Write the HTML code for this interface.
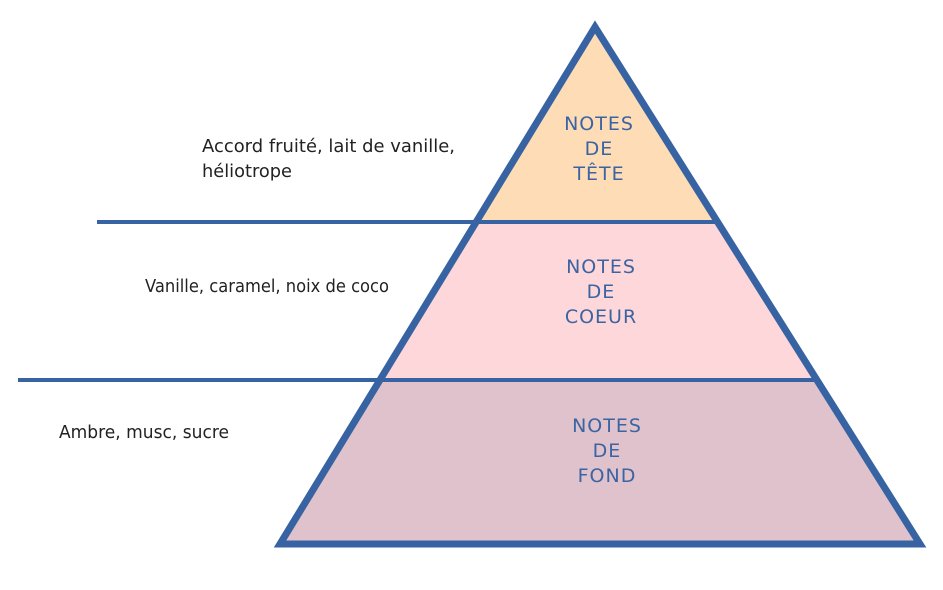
<!DOCTYPE html>
<html><head><meta charset="utf-8"><style>html,body{margin:0;padding:0;background:#fff;}svg{display:block}</style></head>
<body>
<svg width="943" height="590" viewBox="0 0 943 590" xmlns="http://www.w3.org/2000/svg">
<polygon points="595,27 476,222 718,222" fill="#fddcb6"/>
<polygon points="476,222 718,222 817,380 380,380" fill="#fdd7d9"/>
<polygon points="380,380 817,380 920,544 280,544" fill="#dfc2cb"/>
<line x1="97" y1="222" x2="718" y2="222" stroke="#3763a2" stroke-width="4"/>
<line x1="18" y1="380" x2="817" y2="380" stroke="#3763a2" stroke-width="4"/>
<polygon points="595,27 920,544 280,544" fill="none" stroke="#3763a2" stroke-width="7" stroke-linejoin="miter"/>
<g font-family="'DejaVu Sans', 'Liberation Sans', sans-serif" font-size="19" fill="#3b64a3" text-anchor="middle" letter-spacing="1">
<text x="599" y="130">NOTES</text><text x="599" y="155">DE</text><text x="599" y="180">TÊTE</text>
<text x="601" y="273">NOTES</text><text x="601" y="298">DE</text><text x="601" y="323">COEUR</text>
<text x="607" y="432">NOTES</text><text x="607" y="457">DE</text><text x="607" y="482">FOND</text>
</g>
<g font-family="'DejaVu Sans', 'Liberation Sans', sans-serif" font-size="18" fill="#222">
<text x="202" y="152" textLength="253" lengthAdjust="spacingAndGlyphs">Accord fruité, lait de vanille,</text>
<text x="202" y="177" textLength="90" lengthAdjust="spacingAndGlyphs">héliotrope</text>
<text x="145" y="292" textLength="244" lengthAdjust="spacingAndGlyphs">Vanille, caramel, noix de coco</text>
<text x="59" y="438" textLength="170" lengthAdjust="spacingAndGlyphs">Ambre, musc, sucre</text>
</g>
</svg>
</body></html>
